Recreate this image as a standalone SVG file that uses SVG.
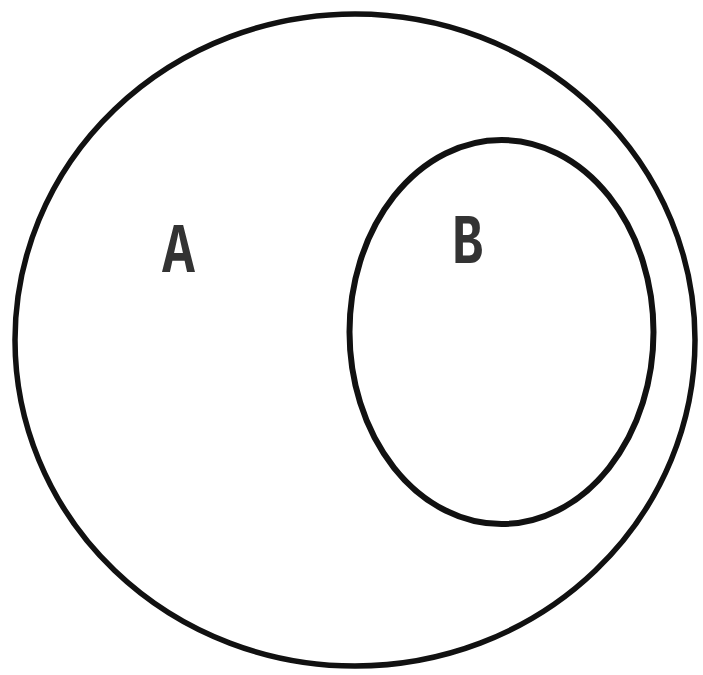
<svg xmlns="http://www.w3.org/2000/svg" width="703" height="675" viewBox="0 0 703 675">
<style>
.set{fill:none;stroke:#111;stroke-width:5.5}
.lbl{font-family:"Liberation Mono","Courier New",monospace;font-size:70px;fill:#333;font-weight:bold}
</style>
<rect width="703" height="675" fill="#fff"/>
<g id="setA">
<ellipse class="set" cx="355" cy="340" rx="340" ry="326"/>
<text class="lbl" x="162" y="272" textLength="33" lengthAdjust="spacingAndGlyphs">A</text>
</g>
<g id="setB">
<ellipse class="set" cx="501.5" cy="332" rx="152" ry="192" style="stroke-width:6"/>
<text class="lbl" x="452" y="263" textLength="31" lengthAdjust="spacingAndGlyphs">B</text>
</g>
</svg>
